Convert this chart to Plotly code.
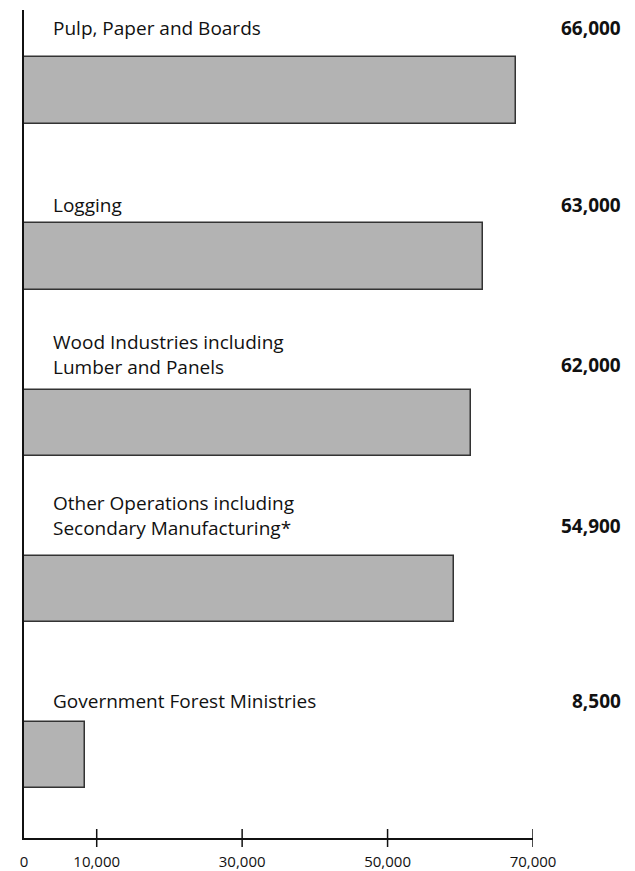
import plotly.graph_objects as go

# ---- data ----
categories = [
    "Pulp, Paper and Boards",
    "Logging",
    "Wood Industries including<br>Lumber and Panels",
    "Other Operations including<br>Secondary Manufacturing*",
    "Government Forest Ministries",
]
bar_values = [67700, 63100, 61500, 59200, 8400]   # bar lengths as drawn
value_labels = ["66,000", "63,000", "62,000", "54,900", "8,500"]
tick_values = [0, 10000, 30000, 50000, 70000]
tick_labels = ["0", "10,000", "30,000", "50,000", "70,000"]

# ---- style / layout ----
FONT = "Open Sans"
label_shift = [63, 52, 58, 63, 54]   # px above bar centre for last text line
LINE_H = 20
PAGE_OFF = 8   # default body margin of the html page

ypos = list(range(len(categories)))

fig = go.Figure()
fig.add_trace(go.Bar(
    x=bar_values, y=ypos, orientation="h", width=0.40,
    marker=dict(color="#b3b3b3", line=dict(color="#333333", width=1.5)),
    hoverinfo="skip", showlegend=False,
))

annotations = []
for i, (cat, val) in enumerate(zip(categories, value_labels)):
    n = len(cat.split("<br>"))
    annotations.append(dict(
        x=0, y=i, xref="x", yref="y", text=cat, showarrow=False,
        xanchor="left", yanchor="middle", align="left", xshift=27,
        yshift=label_shift[i] + (n - 1) * LINE_H / 2,
        font=dict(family=FONT, size=19, color="#111111"),
    ))
    annotations.append(dict(
        x=1, y=i, xref="paper", yref="y", text="<b>" + val + "</b>", showarrow=False,
        xanchor="right", yanchor="middle", xshift=90, yshift=label_shift[i],
        font=dict(family=FONT, size=19, color="#111111"),
    ))

shapes = []
for tv in tick_values[1:]:
    shapes.append(dict(
        type="line", xref="x", yref="paper", x0=tv, x1=tv,
        ysizemode="pixel", yanchor=0, y0=-9, y1=9,
        line=dict(color="#111111", width=1.5),
    ))

fig.update_layout(
    width=635 - PAGE_OFF, height=871 - PAGE_OFF,
    margin=dict(l=24 - PAGE_OFF, r=102, t=10 - PAGE_OFF, b=33, autoexpand=False),
    paper_bgcolor="white", plot_bgcolor="white",
    annotations=annotations, shapes=shapes,
    bargap=0,
    xaxis=dict(
        range=[0, 70000], showgrid=False, zeroline=False, automargin=False,
        showline=True, linecolor="#111111", linewidth=1.5,
        tickvals=tick_values, ticktext=tick_labels, ticks="",
        ticklabelstandoff=9,
        tickfont=dict(family=FONT, size=15, color="#111111"),
        fixedrange=True,
    ),
    yaxis=dict(
        range=[4.5, -0.485], showgrid=False, zeroline=False, automargin=False,
        showline=True, linecolor="#111111", linewidth=2,
        showticklabels=False, ticks="", fixedrange=True,
    ),
)

fig.write_html("out.html")
